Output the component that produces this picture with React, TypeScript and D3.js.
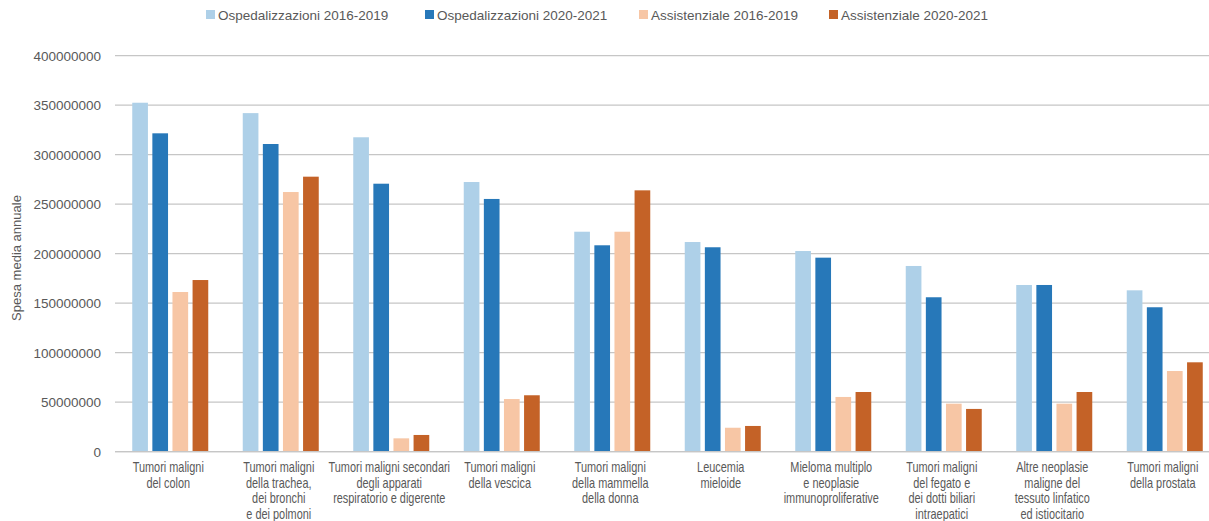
import React from "react";
import * as d3 from "d3";

const categories: string[][] = [
  ["Tumori maligni", "del colon"],
  ["Tumori maligni", "della trachea,", "dei bronchi", "e dei polmoni"],
  ["Tumori maligni secondari", "degli apparati", "respiratorio e digerente"],
  ["Tumori maligni", "della vescica"],
  ["Tumori maligni", "della mammella", "della donna"],
  ["Leucemia", "mieloide"],
  ["Mieloma multiplo", "e neoplasie", "immunoproliferative"],
  ["Tumori maligni", "del fegato e", "dei dotti biliari", "intraepatici"],
  ["Altre neoplasie", "maligne del", "tessuto linfatico", "ed istiocitario"],
  ["Tumori maligni", "della prostata"],
];

const seriesNames = [
  "Ospedalizzazioni 2016-2019",
  "Ospedalizzazioni 2020-2021",
  "Assistenziale 2016-2019",
  "Assistenziale 2020-2021",
];

const osp2016 = [352500000, 342000000, 317600000, 272400000, 222200000, 211800000, 202700000, 187600000, 168400000, 163000000];
const osp2020 = [321600000, 310800000, 270700000, 255300000, 208500000, 206500000, 196000000, 156000000, 168400000, 145900000];
const ass2016 = [161300000, 262300000, 13500000, 53200000, 222200000, 24200000, 55300000, 48500000, 48500000, 81500000];
const ass2020 = [173400000, 277800000, 16900000, 57000000, 264000000, 26000000, 60300000, 43200000, 60300000, 90300000];

const yTicks = [0, 50000000, 100000000, 150000000, 200000000, 250000000, 300000000, 350000000, 400000000];

const colors = ["#AED0E8", "#2778B9", "#F7C6A5", "#C46227"];

const W = 1209;
const H = 521;
const left = 115;
const right = 1220;
const top = 55.7;
const bottom = 451.7;

export default function App() {
  const values = [osp2016, osp2020, ass2016, ass2020];
  const idx = categories.map((_, i) => String(i));
  const x0 = d3.scaleBand<string>().domain(idx).range([left, right]).padding(0);
  const bw = x0.bandwidth();
  const groupW = 76;
  const x1 = d3
    .scaleBand<string>()
    .domain(seriesNames)
    .range([(bw - groupW) / 2, (bw + groupW) / 2])
    .paddingInner(0.22)
    .paddingOuter(0);
  const y = d3.scaleLinear().domain([0, 400000000]).range([bottom, top]);

  const textColor = "#595959";
  const font = "'Liberation Sans', Arial, sans-serif";

  const legendX = [206, 425, 639, 829];

  return (
    <svg
      width={W}
      height={H}
      style={{ position: "fixed", left: 0, top: 0, background: "#fff" }}
    >
      <rect x={0} y={0} width={W} height={H} fill="#fff" />
      {yTicks.map((t) => (
        <line
          key={t}
          x1={left}
          x2={right}
          y1={y(t)}
          y2={y(t)}
          stroke="#C6C6C6"
          strokeWidth={1.3}
        />
      ))}
      {yTicks.map((t) => (
        <text
          key={"l" + t}
          x={101}
          y={y(t)}
          dy="0.36em"
          textAnchor="end"
          fontFamily={font}
          fontSize={13.5}
          fill={textColor}
        >
          {String(t)}
        </text>
      ))}
      <text
        transform={`translate(16,258) rotate(-90)`}
        textAnchor="middle"
        dy="0.35em"
        fontFamily={font}
        fontSize={13}
        fill={textColor}
      >
        Spesa media annuale
      </text>
      {categories.map((_, ci) => (
        <g key={ci} transform={`translate(${x0(String(ci))},0)`}>
          {seriesNames.map((s, si) => {
            const v = values[si][ci];
            return (
              <rect
                key={s}
                x={x1(s)}
                y={y(v)}
                width={x1.bandwidth()}
                height={y(0) - y(v)}
                fill={colors[si]}
              />
            );
          })}
        </g>
      ))}
      <line x1={left} x2={right} y1={y(0)} y2={y(0)} stroke="#C6C6C6" strokeWidth={1.3} />
      {categories.map((lines, ci) => (
        <g
          key={"x" + ci}
          transform={`translate(${(x0(String(ci)) as number) + bw / 2 - 2},472) scale(0.78,1)`}
        >
          <text textAnchor="middle" fontFamily={font} fontSize={14} fill={textColor}>
            {lines.map((ln, li) => (
              <tspan key={li} x={0} dy={li === 0 ? 0 : 15.6}>
                {ln}
              </tspan>
            ))}
          </text>
        </g>
      ))}
      {seriesNames.map((s, si) => (
        <g key={"lg" + s} transform={`translate(${legendX[si]},0)`}>
          <rect x={0} y={10} width={9} height={9} fill={colors[si]} />
          <text x={12} y={15} dy="0.35em" fontFamily={font} fontSize={13.5} fill={textColor}>
            {s}
          </text>
        </g>
      ))}
    </svg>
  );
}
